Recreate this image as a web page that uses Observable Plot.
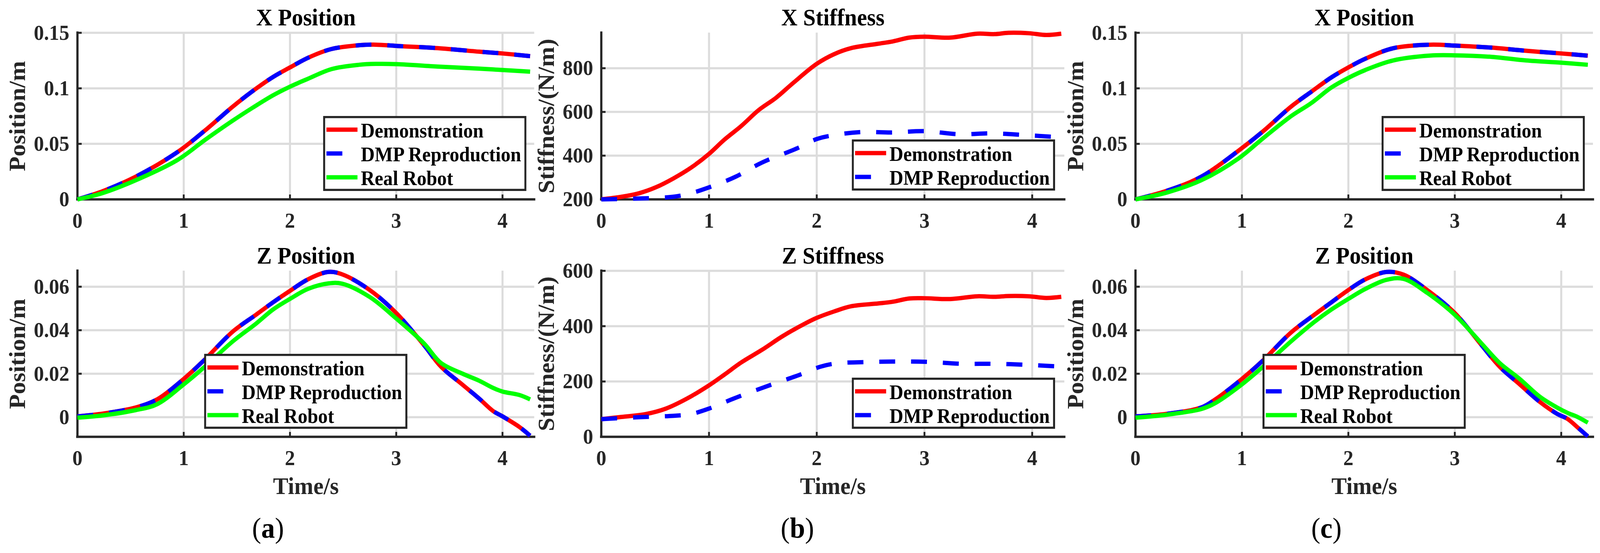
<!DOCTYPE html>
<html><head><meta charset="utf-8">
<script src="https://cdn.jsdelivr.net/npm/d3@7"></script>
<script src="https://cdn.jsdelivr.net/npm/@observablehq/plot@0.6"></script>
<style>
html,body{margin:0;padding:0;background:#fff;overflow:hidden;}
#root{position:relative;width:4328px;height:1416px;overflow:hidden;background:#fff;font-family:'Liberation Serif','Times New Roman',serif;transform-origin:0 0;}
.panel{position:absolute;}
.panel svg{max-width:none !important;}
.cap{position:absolute;font-size:74px;line-height:1;transform:translate(-50%,-50%);color:#000;white-space:nowrap;font-weight:normal;}
.leg{position:absolute;}
</style></head><body><div id="root"></div>
<script>
// ---------------- DATA ----------------
const xTicks = [0, 1, 2, 3, 4];
const xTickLabels = ["0", "1", "2", "3", "4"];
const timeDomain = [0, 4.3];

const posXTicks = [0, 0.05, 0.1, 0.15];
const posXTickLabels = ["0", "0.05", "0.1", "0.15"];
const posXDomain = [0, 0.15];

const posZTicks = [0, 0.02, 0.04, 0.06];
const posZTickLabels = ["0", "0.02", "0.04", "0.06"];
const posZDomain = [-0.009, 0.0673];

const stiffXTicks = [200, 400, 600, 800];
const stiffXTickLabels = ["200", "400", "600", "800"];
const stiffXDomain = [200, 962];

const stiffZTicks = [0, 200, 400, 600];
const stiffZTickLabels = ["0", "200", "400", "600"];
const stiffZDomain = [0, 600];

// (a) X position
const timeA_X = [0, 0.23, 0.55, 0.94, 1.2, 1.46, 1.65, 1.84, 2.0, 2.17, 2.39, 2.65, 2.81, 3.0, 3.39, 3.78, 4.0, 4.26];
const demoA_X = [0, 0.0071, 0.0205, 0.0425, 0.062, 0.0834, 0.0976, 0.1102, 0.1188, 0.1275, 0.1354, 0.1388, 0.1393, 0.1382, 0.1362, 0.133, 0.1314, 0.129];
const dmpA_X  = [0, 0.0071, 0.0205, 0.0425, 0.062, 0.0834, 0.0976, 0.1102, 0.1188, 0.1275, 0.1354, 0.1388, 0.1393, 0.1382, 0.1362, 0.133, 0.1314, 0.129];
const robotA_X = [0, 0.0055, 0.0173, 0.0354, 0.0535, 0.0708, 0.0826, 0.0937, 0.1015, 0.1086, 0.1173, 0.1212, 0.122, 0.1218, 0.1196, 0.1177, 0.1165, 0.115];

// (a) Z position
const timeA_Z = [0, 0.23, 0.55, 0.75, 1.0, 1.2, 1.46, 1.68, 1.84, 2.0, 2.17, 2.36, 2.49, 2.75, 3.0, 3.26, 3.42, 3.62, 3.78, 3.91, 4.0, 4.16, 4.26];
const demoA_Z = [0.0004, 0.0016, 0.0045, 0.0082, 0.0176, 0.0266, 0.0393, 0.0471, 0.0528, 0.0581, 0.0634, 0.0668, 0.0657, 0.0585, 0.0479, 0.0332, 0.0233, 0.0151, 0.0086, 0.0029, 0.0004, -0.0045, -0.0085];
const dmpA_Z  = [0.0004, 0.0016, 0.0045, 0.0082, 0.0176, 0.0266, 0.0393, 0.0471, 0.0528, 0.0581, 0.0634, 0.0668, 0.0657, 0.0585, 0.0479, 0.0332, 0.0233, 0.0151, 0.0086, 0.0029, 0.0004, -0.0045, -0.0085];
const robotA_Z = [-0.0002, 0.0008, 0.0033, 0.006, 0.0151, 0.0233, 0.0348, 0.043, 0.0495, 0.0544, 0.059, 0.0615, 0.0614, 0.0553, 0.0454, 0.034, 0.025, 0.0201, 0.0168, 0.0135, 0.0118, 0.0102, 0.0082];

// (b) X stiffness
const timeB_Xdemo = [0, 0.19, 0.35, 0.51, 0.67, 0.83, 1.0, 1.14, 1.3, 1.46, 1.62, 1.78, 2.0, 2.16, 2.32, 2.57, 2.7, 2.86, 3.0, 3.24, 3.49, 3.65, 3.78, 3.97, 4.13, 4.27];
const demoB_X = [200, 212, 228, 256, 296, 344, 408, 472, 536, 608, 664, 732, 820, 864, 892, 912, 922, 940, 944, 940, 958, 956, 962, 960, 952, 958];
const timeB_Xdmp = [0, 0.35, 0.67, 0.83, 1.0, 1.24, 1.49, 1.81, 2.0, 2.16, 2.41, 2.7, 3.0, 3.32, 3.62, 3.94, 4.26];
const dmpB_X = [200, 204, 212, 228, 255, 302, 368, 432, 476, 494, 508, 506, 512, 498, 502, 494, 484];

// (b) Z stiffness
const timeB_Zdemo = [0, 0.19, 0.41, 0.6, 0.79, 1.0, 1.14, 1.3, 1.49, 1.68, 1.87, 2.0, 2.16, 2.32, 2.57, 2.7, 2.86, 3.0, 3.24, 3.49, 3.65, 3.78, 3.97, 4.13, 4.27];
const demoB_Z = [64, 72, 82, 102, 137, 186, 224, 269, 314, 363, 405, 430, 453, 472, 482, 488, 500, 501, 498, 508, 506, 509, 508, 502, 506];
const timeB_Zdmp = [0, 0.35, 0.67, 0.83, 1.0, 1.24, 1.56, 1.84, 2.03, 2.19, 2.45, 2.73, 3.02, 3.35, 3.65, 3.97, 4.26];
const dmpB_Z = [64, 71, 76, 82, 102, 140, 186, 224, 253, 266, 270, 272, 271, 264, 264, 260, 254];

// (c) X position
const timeC_X = [0, 0.3, 0.62, 0.97, 1.2, 1.46, 1.65, 1.84, 2.0, 2.16, 2.42, 2.77, 3.0, 3.35, 3.67, 4.0, 4.25];
const demoC_X = [0, 0.0079, 0.0205, 0.044, 0.0614, 0.0834, 0.0968, 0.1098, 0.1188, 0.1267, 0.1361, 0.1393, 0.1385, 0.1366, 0.1338, 0.1314, 0.1294];
const dmpC_X  = [0, 0.0079, 0.0205, 0.044, 0.0614, 0.0834, 0.0968, 0.1098, 0.1188, 0.1267, 0.1361, 0.1393, 0.1385, 0.1366, 0.1338, 0.1314, 0.1294];
const robotC_X = [0, 0.0063, 0.0173, 0.037, 0.0551, 0.0748, 0.0866, 0.1007, 0.1094, 0.1165, 0.1251, 0.1295, 0.1297, 0.1283, 0.1251, 0.1231, 0.1212];

// (c) Z position
const timeC_Z = [0, 0.3, 0.62, 0.75, 1.0, 1.2, 1.46, 1.68, 1.84, 2.0, 2.16, 2.36, 2.52, 2.74, 3.0, 3.25, 3.42, 3.61, 3.8, 3.96, 4.06, 4.15, 4.25];
const demoC_Z = [0.0004, 0.0016, 0.0045, 0.0082, 0.0176, 0.0262, 0.0389, 0.0471, 0.0528, 0.0585, 0.0634, 0.0668, 0.0655, 0.0585, 0.0479, 0.0332, 0.0233, 0.0151, 0.007, 0.0016, -0.0008, -0.0045, -0.0088];
const dmpC_Z  = [0.0004, 0.0016, 0.0045, 0.0082, 0.0176, 0.0262, 0.0389, 0.0471, 0.0528, 0.0585, 0.0634, 0.0668, 0.0655, 0.0585, 0.0479, 0.0332, 0.0233, 0.0151, 0.007, 0.0016, -0.0008, -0.0045, -0.0088];
const robotC_Z = [-0.0002, 0.0012, 0.0038, 0.0065, 0.0151, 0.0233, 0.0348, 0.0438, 0.0495, 0.0544, 0.059, 0.0632, 0.0636, 0.0572, 0.0471, 0.034, 0.025, 0.0176, 0.0094, 0.0045, 0.002, 0.0002, -0.0025];

const seriesNames = ["Demonstration", "DMP Reproduction", "Real Robot"];

// ---------------- STYLE ----------------
const FONT = "'Liberation Serif','Times New Roman',serif";
const AXIS = "#262626", GRID = "#dcdcdc";
const RED = "#ff0000", BLUE = "#0000ff", GREEN = "#00ff00";
const LW = 11, DASH = "43,43";

const root = document.getElementById("root");
// fit the 4328x1416 layout into the actual viewport
{
  const sx = Math.min(1, window.innerWidth / 4328), sy = Math.min(1, window.innerHeight / 1416);
  if (sx < 1 || sy < 1) root.style.transform = `scale(${sx}, ${sy})`;
}

function rows(t, v) { return t.map((ti, i) => ({t: ti, v: v[i]})); }

function panel(cfg) {
  const {left, top, width, height, mL, mR, mT, mB, yDomain, yTicks, yTickLabels, series, title, ylabel, ylabelDx, xlabel} = cfg;
  const marks = [
    Plot.ruleX(xTicks, {x: d => d, stroke: GRID, strokeWidth: 5.5}),
    Plot.ruleY(yTicks, {y: d => d, stroke: GRID, strokeWidth: 5.5}),
    Plot.ruleX([timeDomain[0]], {x: d => d, stroke: AXIS, strokeWidth: 6, strokeLinecap: "square"}),
    Plot.ruleY([yDomain[0]], {y: d => d, stroke: AXIS, strokeWidth: 6, strokeLinecap: "square"}),
    Plot.axisX(xTicks, {tickSize: -12, tickPadding: 45, strokeWidth: 5, color: AXIS, fontSize: 55, fontWeight: "bold", fontFamily: FONT, label: null, tickFormat: d => xTickLabels[xTicks.indexOf(d)]}),
    Plot.axisY(yTicks, {tickSize: -12, tickPadding: 34, strokeWidth: 5, color: AXIS, fontSize: 55, fontWeight: "bold", fontFamily: FONT, label: null, tickFormat: d => yTickLabels[yTicks.indexOf(d)]})
  ];
  for (const s of series) {
    marks.push(Plot.line(rows(s.t, s.v), {x: "t", y: "v", stroke: s.color, strokeWidth: LW, curve: "catmull-rom", strokeLinecap: "butt", strokeLinejoin: "round", strokeDasharray: s.dash || null}));
  }
  marks.push(Plot.text([title], {frameAnchor: "top", dy: -38.5, fontSize: 61, fontWeight: "bold", fontFamily: FONT, fill: "#000", textAnchor: "middle", lineAnchor: "middle"}));
  marks.push(Plot.text([ylabel], {frameAnchor: "left", dx: ylabelDx, rotate: -90, fontSize: 62, fontWeight: "bold", fontFamily: FONT, fill: AXIS, textAnchor: "middle", lineAnchor: "middle"}));
  if (xlabel) marks.push(Plot.text([xlabel], {frameAnchor: "bottom", dy: 127, fontSize: 62, fontWeight: "bold", fontFamily: FONT, fill: AXIS, textAnchor: "middle", lineAnchor: "middle"}));
  const chart = Plot.plot({
    width, height, marginLeft: mL, marginRight: mR, marginTop: mT, marginBottom: mB,
    x: {domain: timeDomain, axis: null},
    y: {domain: yDomain, axis: null},
    style: {fontFamily: FONT, fontSize: "55px", color: AXIS, background: "transparent", overflow: "visible"},
    marks
  });
  const div = document.createElement("div");
  div.className = "panel";
  div.style.left = left + "px"; div.style.top = top + "px";
  div.style.width = width + "px"; div.style.height = height + "px";
  div.appendChild(chart);
  root.appendChild(div);
}

function legend(left, top, items) {
  const rowH = 61, w = 550, h = 9 + rowH * items.length, bw = 5.5;
  const svg = d3.create("svg").attr("class", "leg").attr("width", w).attr("height", h)
    .style("left", left + "px").style("top", top + "px");
  svg.append("rect").attr("x", bw / 2).attr("y", bw / 2).attr("width", w - bw).attr("height", h - bw)
    .attr("fill", "#fff").attr("stroke", AXIS).attr("stroke-width", bw);
  items.forEach((it, i) => {
    const cy = 38 + rowH * i;
    svg.append("line").attr("x1", 9).attr("x2", 93).attr("y1", cy - 3).attr("y2", cy - 3)
      .attr("stroke", it.color).attr("stroke-width", LW).attr("stroke-dasharray", it.dash || null);
    svg.append("text").attr("x", 102).attr("y", cy + 17.5).text(it.label)
      .attr("font-family", FONT).attr("font-weight", "bold").attr("font-size", 52).attr("fill", "#000");
  });
  root.appendChild(svg.node());
}

function caption(x, y, letter) {
  const d = document.createElement("div");
  d.className = "cap";
  d.style.left = x + "px"; d.style.top = y + "px";
  d.innerHTML = "(<b>" + letter + "</b>)";
  root.appendChild(d);
}

const colA = {left: 0, width: 1460, mL: 209, mR: 1460 - 1445};
const colB = {left: 1420, width: 1480, mL: 1626 - 1420, mR: 1480 - (2879 - 1420)};
const colC = {left: 2880, width: 1448, mL: 3071 - 2880, mR: 1448 - (4309 - 2880)};
const rowTop = {top: 0, height: 610, mT: 83.5, mB: 610 - 510};
const rowBot = {top: 610, height: 806, mT: 693 - 610, mB: 806 - (1118 - 610)};

const sDemo = (t, v) => ({t, v, color: RED});
const sDmp = (t, v) => ({t, v, color: BLUE, dash: DASH});
const sRobot = (t, v) => ({t, v, color: GREEN});

panel({...colA, ...rowTop, yDomain: posXDomain, yTicks: posXTicks, yTickLabels: posXTickLabels,
  series: [sDemo(timeA_X, demoA_X), sDmp(timeA_X, dmpA_X), sRobot(timeA_X, robotA_X)],
  title: "X Position", ylabel: "Position/m", ylabelDx: 47 - 209});
panel({...colA, ...rowBot, yDomain: posZDomain, yTicks: posZTicks, yTickLabels: posZTickLabels,
  series: [sDemo(timeA_Z, demoA_Z), sDmp(timeA_Z, dmpA_Z), sRobot(timeA_Z, robotA_Z)],
  title: "Z Position", ylabel: "Position/m", ylabelDx: 47 - 209, xlabel: "Time/s"});
panel({...colB, ...rowTop, yDomain: stiffXDomain, yTicks: stiffXTicks, yTickLabels: stiffXTickLabels,
  series: [sDemo(timeB_Xdemo, demoB_X), sDmp(timeB_Xdmp, dmpB_X)],
  title: "X Stiffness", ylabel: "Stiffness/(N/m)", ylabelDx: 1478 - 1626});
panel({...colB, ...rowBot, yDomain: stiffZDomain, yTicks: stiffZTicks, yTickLabels: stiffZTickLabels,
  series: [sDemo(timeB_Zdemo, demoB_Z), sDmp(timeB_Zdmp, dmpB_Z)],
  title: "Z Stiffness", ylabel: "Stiffness/(N/m)", ylabelDx: 1478 - 1626, xlabel: "Time/s"});
panel({...colC, ...rowTop, yDomain: posXDomain, yTicks: posXTicks, yTickLabels: posXTickLabels,
  series: [sDemo(timeC_X, demoC_X), sDmp(timeC_X, dmpC_X), sRobot(timeC_X, robotC_X)],
  title: "X Position", ylabel: "Position/m", ylabelDx: 2910 - 3071});
panel({...colC, ...rowBot, yDomain: posZDomain, yTicks: posZTicks, yTickLabels: posZTickLabels,
  series: [sDemo(timeC_Z, demoC_Z), sDmp(timeC_Z, dmpC_Z), sRobot(timeC_Z, robotC_Z)],
  title: "Z Position", ylabel: "Position/m", ylabelDx: 2910 - 3071, xlabel: "Time/s"});

const leg3 = [
  {label: seriesNames[0], color: RED},
  {label: seriesNames[1], color: BLUE, dash: DASH},
  {label: seriesNames[2], color: GREEN}
];
const leg2 = leg3.slice(0, 2);
legend(874, 297, leg3);
legend(552, 906, leg3);
legend(2304, 357, leg2);
legend(2304, 967, leg2);
legend(3737, 297, leg3);
legend(3415, 906, leg3);

caption(725, 1352, "a");
caption(2157, 1352, "b");
caption(3588, 1352, "c");
</script>
</body></html>
